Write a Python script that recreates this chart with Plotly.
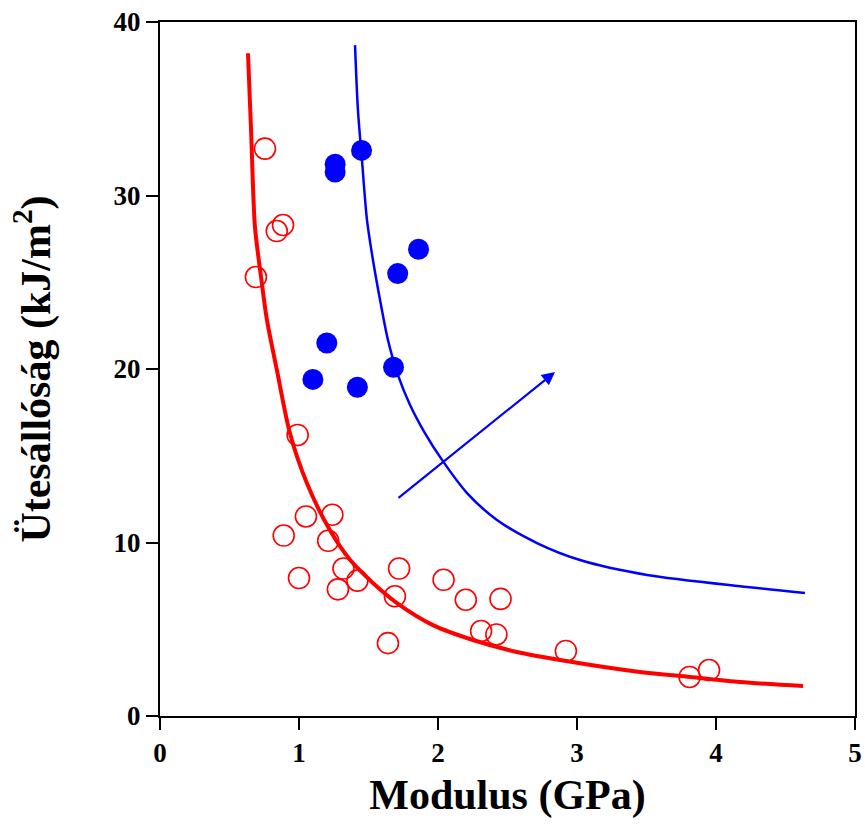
import plotly.graph_objects as go

# Red open circles (unmodified)
red_x = [0.755, 0.885, 0.84, 0.69, 0.99, 1.05, 1.24, 0.89, 1.21, 1.32, 1.00, 1.28, 1.42,
         1.72, 1.69, 2.04, 2.20, 2.45, 2.31, 2.42, 1.64, 2.92, 3.81, 3.95]
red_y = [32.7, 28.3, 27.95, 25.3, 16.2, 11.5, 11.6, 10.4, 10.1, 8.5, 7.95, 7.3, 7.8,
         8.5, 6.9, 7.85, 6.7, 6.75, 4.9, 4.7, 4.2, 3.75, 2.25, 2.65]

# Blue filled circles
blue_x = [1.45, 1.26, 1.26, 1.86, 1.71, 1.20, 1.10, 1.42, 1.68]
blue_y = [32.6, 31.8, 31.35, 26.9, 25.5, 21.5, 19.4, 18.95, 20.1]

# Red trend curve
red_curve_x = [0.633, 0.655, 0.683, 0.727, 0.770, 0.842, 0.935, 1.058, 1.223, 1.367,
               1.532, 1.705, 1.964, 2.252, 2.568, 2.878, 3.453, 3.813, 4.173, 4.626]
red_curve_y = [38.2, 33.8, 28.2, 25.3, 22.8, 19.9, 16.3, 13.4, 10.7, 9.0,
               7.67, 6.51, 5.24, 4.38, 3.69, 3.23, 2.54, 2.25, 1.96, 1.73]

# Blue trend curve
blue_curve_x = [1.403, 1.424, 1.453, 1.489, 1.532, 1.583, 1.640, 1.712, 1.799, 1.906,
                2.029, 2.209, 2.424, 2.712, 3.022, 3.504, 4.223, 4.640]
blue_curve_y = [38.67, 34.93, 32.05, 28.59, 26.28, 23.98, 21.67, 19.65, 17.93, 16.31,
                14.76, 12.85, 11.30, 9.97, 8.99, 8.13, 7.44, 7.09]

# Arrow
arrow_start = (1.705, 12.5)
arrow_end = (2.842, 19.83)

x_ticks = [0, 1, 2, 3, 4, 5]
y_ticks = [0, 10, 20, 30, 40]

FONT = "Liberation Serif"

fig = go.Figure()
fig.add_trace(go.Scatter(x=red_curve_x, y=red_curve_y, mode="lines",
                         line=dict(color="#ff0000", width=4, shape="spline", smoothing=0.8),
                         showlegend=False, hoverinfo="skip"))
fig.add_trace(go.Scatter(x=blue_curve_x, y=blue_curve_y, mode="lines",
                         line=dict(color="#0000ff", width=2.5, shape="spline", smoothing=0.8),
                         showlegend=False, hoverinfo="skip"))
fig.add_trace(go.Scatter(x=red_x, y=red_y, mode="markers",
                         marker=dict(symbol="circle-open", size=21, color="#ff0000",
                                     line=dict(width=1.6, color="#ff0000")),
                         showlegend=False))
fig.add_trace(go.Scatter(x=blue_x, y=blue_y, mode="markers",
                         marker=dict(symbol="circle", size=21, color="#0000ff",
                                     line=dict(width=0)),
                         showlegend=False))

fig.add_annotation(x=arrow_end[0], y=arrow_end[1], ax=arrow_start[0], ay=arrow_start[1],
                   xref="x", yref="y", axref="x", ayref="y", text="", showarrow=True,
                   arrowhead=2, arrowsize=1.2, arrowwidth=2.2, arrowcolor="#0000ff")

fig.update_layout(
    width=865, height=831,
    margin=dict(l=160, r=10, t=22, b=115),
    paper_bgcolor="white", plot_bgcolor="white",
    font=dict(family=FONT, color="black"),
    xaxis=dict(range=[0, 5], tickvals=x_ticks, ticktext=[str(v) for v in x_ticks],
               ticks="outside", ticklen=12, tickwidth=2, tickcolor="black",
               showline=True, linecolor="black", linewidth=2, mirror=True,
               showgrid=False, zeroline=False, automargin=False,
               tickfont=dict(family=FONT, size=27, color="black", weight="bold"),
               title=dict(text="<b>Modulus (GPa)</b>", font=dict(family=FONT, size=42), standoff=12)),
    yaxis=dict(range=[0, 40], tickvals=y_ticks, ticktext=[str(v) for v in y_ticks],
               ticks="outside", ticklen=12, tickwidth=2, tickcolor="black",
               showline=True, linecolor="black", linewidth=2, mirror=True,
               showgrid=False, zeroline=False, automargin=False,
               tickfont=dict(family=FONT, size=27, color="black", weight="bold"),
               title=dict(text="<b>Ütesállóság (kJ/m<sup>2</sup>)</b>", font=dict(family=FONT, size=42), standoff=50)),
)

fig.write_html("out.html", config={"displayModeBar": False},
               post_script="document.body.style.margin='0';document.body.style.overflow='hidden';")
